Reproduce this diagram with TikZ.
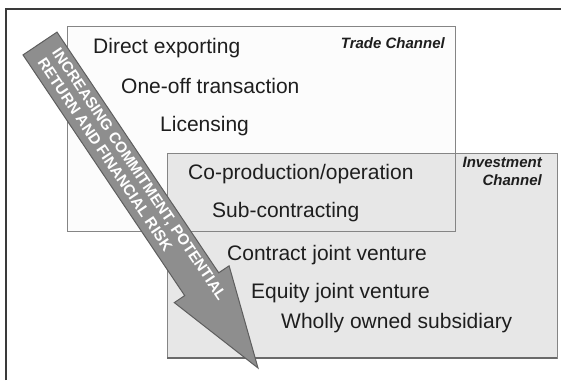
\documentclass[tikz,border=0pt]{standalone}
\usepackage{fontspec}
\setmainfont{Liberation Sans}
\definecolor{tradefill}{HTML}{FCFCFC}
\definecolor{invfill}{HTML}{E7E7E7}
\definecolor{boxline}{HTML}{858585}
\definecolor{arrowfill}{HTML}{8E8E8E}
\definecolor{arrowline}{HTML}{5E5E5E}
\definecolor{framecol}{HTML}{3A3A3A}
\definecolor{txt}{HTML}{1E1E1E}
\begin{document}
\begin{tikzpicture}[x=1pt,y=-1pt,
  item/.style={anchor=base west, inner sep=0pt, font=\fontsize{21}{25}\selectfont, text=txt},
  chan/.style={anchor=base east, inner sep=0pt, font=\fontsize{15}{17}\selectfont\bfseries\itshape, text=txt},
  arrtext/.style={anchor=base west, inner sep=0pt, rotate=-56.1, font=\fontsize{15.3}{17}\selectfont\bfseries, text=white},
  boxborder/.style={draw=boxline, line width=1pt},
  bigarrow/.style={fill=arrowfill, draw=arrowline, line width=1pt, line join=miter}]
\useasboundingbox (0,0) rectangle (561,380);
% outer frame
\coordinate (fbl) at (6,380);
\coordinate (ftl) at (6,9);
\coordinate (ftr) at (561,9);
\draw[framecol, line width=1.5pt] (fbl) -- (ftl) -- (ftr);
% boxes
\coordinate (tradeTL) at (67,26);
\coordinate (tradeBR) at (455,231);
\coordinate (invTL) at (167,153);
\coordinate (invBR) at (557,358);
\fill[tradefill] (tradeTL) rectangle (tradeBR);
\fill[invfill] (invTL) rectangle (invBR);
\draw[boxborder] (invTL) rectangle (invBR);
\draw[boxline!80!black, line width=1.6pt] (invTL |- invBR) -- (invBR);
\draw[boxborder] (tradeTL) rectangle (tradeBR);
% channel labels
\node[chan] (tradech) at (445,48) {Trade Channel};
\node[chan] (invch1) at (542,167) {Investment};
\node[chan] (invch2) at (542,185) {Channel};
% items
\node[item] (de) at (93,53) {Direct exporting};
\node[item] (oo) at (121,93) {One-off transaction};
\node[item] (li) at (160,131) {Licensing};
\node[item] (cp) at (188,179) {Co-production/operation};
\node[item] (sc) at (212,217) {Sub-contracting};
\node[item] (cj) at (227,260) {Contract joint venture};
\node[item] (ej) at (251,298) {Equity joint venture};
\node[item] (wo) at (281,328) {Wholly owned subsidiary};
% big arrow
\coordinate (tailR) at (57.0,32.1);
\coordinate (notchR) at (218.7,272.8);
\coordinate (barbR) at (229.1,265.8);
\coordinate (tip) at (258,368);
\coordinate (barbL) at (174.3,302.6);
\coordinate (notchL) at (184.7,295.6);
\coordinate (tailL) at (23.0,54.9);
\draw[bigarrow] (tailR) -- (notchR) -- (barbR) -- (tip) -- (barbL) -- (notchL) -- (tailL) -- cycle;
\node[arrtext] (al1) at (51.5,52.6) {INCREASING COMMITMENT, POTENTIAL};
\node[arrtext] (al2) at (37.0,62.3) {RETURN AND FINANCIAL RISK};
\end{tikzpicture}
\end{document}
